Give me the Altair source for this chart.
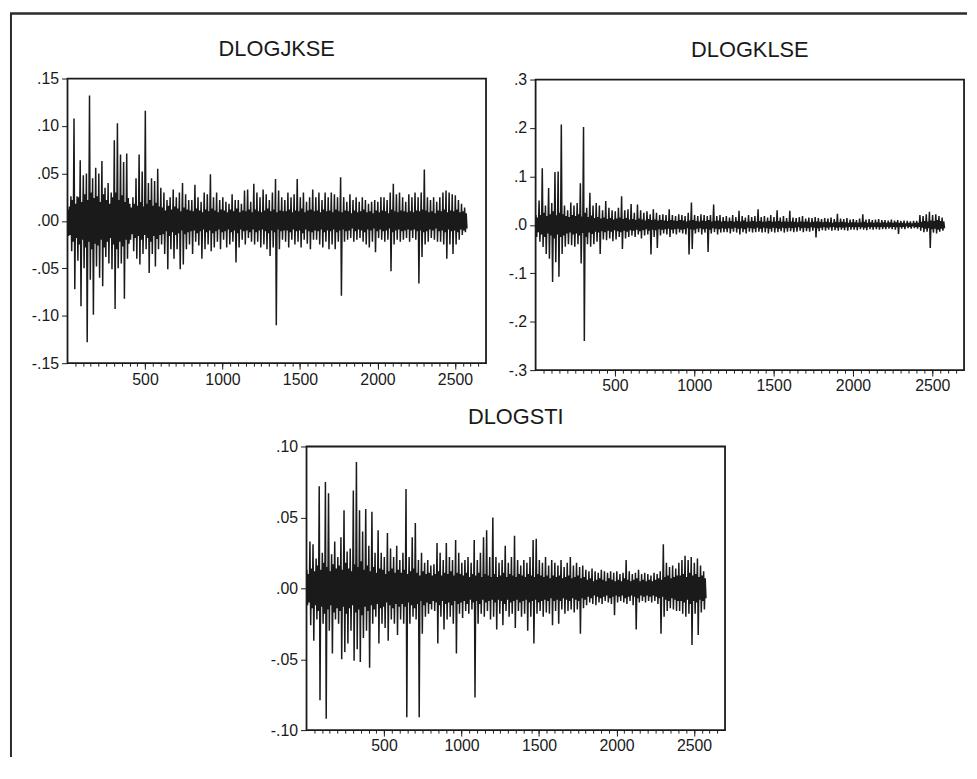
import altair as alt
import pandas as pd

# ---------------- data ----------------
# Each series is summarised per block of 20 observations: the highest and the
# lowest value seen in that block, and the half-width of the dense dark band
# around zero in that block ("core").
BIN = 20

jkse_hi = [.012, .026, .108, .026, .064, .048, .050, .132, .045, .056,
           .050, .063, .035, .040, .030, .085, .103, .070, .062, .071,
           .018, .025, .045, .070, .052, .116, .040, .045, .042, .055,
           .035, .030, .022, .025, .033, .025, .030, .040, .028, .022,
           .022, .038, .025, .020, .030, .028, .049, .025, .030, .022,
           .025, .020, .018, .028, .022, .022, .018, .032, .033, .020,
           .039, .030, .025, .033, .028, .022, .030, .044, .032, .025,
           .022, .030, .025, .028, .044, .025, .030, .020, .025, .033,
           .025, .030, .022, .030, .025, .030, .028, .025, .046, .025,
           .020, .028, .022, .025, .020, .025, .022, .018, .020, .022,
           .020, .025, .025, .022, .030, .039, .028, .030, .025, .020,
           .028, .025, .030, .025, .030, .054, .025, .022, .025, .020,
           .025, .030, .032, .030, .028, .027, .022, .018, .014]
jkse_lo = [-.016, -.032, -.072, -.042, -.090, -.050, -.128, -.062, -.099, -.048,
           -.060, -.069, -.038, -.045, -.051, -.093, -.050, -.045, -.082, -.040,
           -.020, -.032, -.040, -.046, -.035, -.030, -.055, -.035, -.048, -.030,
           -.025, -.035, -.051, -.030, -.040, -.030, -.051, -.046, -.030, -.025,
           -.035, -.022, -.026, -.040, -.030, -.025, -.032, -.028, -.022, -.030,
           -.020, -.028, -.025, -.022, -.044, -.028, -.020, -.025, -.018, -.022,
           -.025, -.022, -.028, -.025, -.030, -.037, -.028, -.110, -.030, -.020,
           -.022, -.028, -.020, -.025, -.022, -.028, -.020, -.024, -.030, -.020,
           -.020, -.025, -.028, -.022, -.030, -.025, -.030, -.022, -.079, -.022,
           -.020, -.018, -.022, -.020, -.018, -.022, -.025, -.028, -.022, -.033,
           -.018, -.020, -.022, -.020, -.053, -.025, -.020, -.022, -.020, -.018,
           -.022, -.018, -.020, -.066, -.038, -.025, -.022, -.018, -.020, -.022,
           -.022, -.025, -.040, -.025, -.035, -.025, -.020, -.015, -.012]
jkse_core = [.015, .022, .018, .025, .020, .028, .022, .030, .024, .026,
             .020, .028, .022, .018, .025, .030, .022, .027, .020, .024,
             .014, .018, .016, .020, .015, .018, .022, .016, .019, .015,
             .014, .011, .016, .012, .015, .013, .010, .014, .012, .011,
             .010, .013, .011, .009, .012, .010, .013, .011, .009, .012,
             .011, .009, .012, .010, .013, .009, .011, .010, .012, .009,
             .012, .010, .009, .011, .013, .010, .012, .009, .011, .010,
             .010, .012, .009, .011, .010, .013, .009, .011, .012, .010,
             .011, .009, .012, .010, .011, .009, .012, .010, .009, .011,
             .010, .008, .011, .009, .010, .012, .009, .010, .008, .011,
             .009, .011, .010, .008, .012, .010, .009, .011, .010, .009,
             .010, .009, .011, .010, .012, .011, .009, .010, .008, .011,
             .010, .012, .009, .011, .010, .012, .009, .010, .008]

klse_hi = [.020, .050, .117, .040, .076, .045, .109, .110, .207, .040,
           .030, .046, .040, .045, .086, .202, .035, .066, .040, .045,
           .040, .030, .049, .035, .030, .028, .035, .059, .030, .032,
           .043, .025, .042, .030, .025, .028, .022, .032, .025, .020,
           .022, .020, .032, .020, .018, .022, .020, .018, .025, .046,
           .020, .018, .022, .020, .018, .020, .042, .018, .020, .016,
           .018, .015, .020, .016, .029, .018, .015, .020, .016, .018,
           .032, .016, .018, .015, .020, .016, .030, .015, .018, .014,
           .029, .015, .014, .016, .018, .013, .015, .014, .016, .014,
           .012, .014, .013, .015, .012, .023, .013, .012, .014, .011,
           .012, .010, .013, .022, .011, .012, .010, .011, .012, .010,
           .010, .009, .011, .009, .010, .008, .009, .008, .007, .008,
           .008, .020, .018, .022, .027, .020, .022, .018, .015]
klse_lo = [-.025, -.035, -.046, -.060, -.070, -.118, -.077, -.107, -.060, -.045,
           -.040, -.042, -.045, -.040, -.080, -.240, -.040, -.045, -.040, -.035,
           -.060, -.030, -.032, -.028, -.034, -.030, -.025, -.050, -.028, -.025,
           -.022, -.025, -.020, -.028, -.022, -.020, -.061, -.025, -.048, -.022,
           -.018, -.020, -.025, -.018, -.020, -.016, -.018, -.020, -.061, -.050,
           -.018, -.015, -.020, -.016, -.056, -.018, -.015, -.020, -.016, -.015,
           -.015, -.018, -.014, -.016, -.020, -.015, -.018, -.014, -.016, -.015,
           -.014, -.016, -.015, -.018, -.014, -.016, -.015, -.013, -.016, -.014,
           -.013, -.015, -.014, -.012, -.015, -.013, -.014, -.012, -.026, -.013,
           -.011, -.012, -.010, -.012, -.011, -.012, -.010, -.011, -.012, -.010,
           -.010, -.011, -.009, -.010, -.011, -.009, -.010, -.009, -.010, -.009,
           -.009, -.008, -.009, -.010, -.019, -.008, -.009, -.007, -.008, -.007,
           -.008, -.012, -.015, -.014, -.048, -.016, -.018, -.014, -.012]
klse_core = [.015, .020, .025, .018, .022, .028, .020, .025, .022, .018,
             .016, .020, .018, .022, .017, .025, .016, .019, .014, .016,
             .013, .015, .012, .014, .011, .013, .015, .012, .014, .011,
             .012, .010, .013, .011, .009, .012, .010, .011, .009, .010,
             .009, .008, .010, .009, .008, .010, .009, .007, .009, .010,
             .008, .007, .009, .008, .010, .007, .008, .009, .007, .008,
             .007, .008, .006, .008, .007, .009, .006, .007, .008, .006,
             .008, .006, .007, .008, .006, .007, .008, .006, .007, .006,
             .007, .006, .005, .007, .006, .007, .005, .006, .007, .006,
             .005, .006, .005, .004, .006, .005, .006, .005, .004, .005,
             .005, .004, .005, .006, .004, .005, .004, .005, .004, .005,
             .004, .005, .004, .005, .004, .004, .003, .004, .003, .004,
             .004, .006, .008, .007, .009, .008, .010, .008, .007]

sti_hi = [.013, .033, .031, .021, .072, .025, .075, .067, .024, .033,
          .022, .036, .055, .026, .028, .069, .089, .055, .040, .056,
          .030, .054, .025, .041, .025, .022, .039, .028, .022, .030,
          .020, .025, .070, .022, .036, .046, .020, .025, .018, .020,
          .016, .017, .032, .025, .020, .032, .022, .020, .034, .025,
          .018, .020, .022, .018, .034, .020, .025, .036, .041, .022,
          .050, .022, .018, .020, .030, .018, .022, .037, .020, .016,
          .020, .018, .022, .034, .035, .020, .018, .022, .016, .020,
          .018, .016, .020, .015, .018, .022, .016, .018, .015, .016,
          .013, .012, .014, .012, .011, .013, .012, .011, .012, .011,
          .012, .010, .011, .020, .012, .010, .011, .013, .010, .011,
          .010, .009, .011, .010, .012, .031, .018, .015, .016, .014,
          .018, .020, .023, .020, .022, .018, .021, .016, .012]
sti_lo = [-.012, -.026, -.037, -.022, -.079, -.025, -.092, -.030, -.046, -.022,
          -.025, -.050, -.045, -.039, -.030, -.051, -.043, -.052, -.035, -.030,
          -.056, -.025, -.020, -.039, -.025, -.028, -.037, -.022, -.025, -.033,
          -.022, -.025, -.091, -.025, -.020, -.022, -.091, -.032, -.020, -.018,
          -.015, -.016, -.039, -.020, -.029, -.022, -.020, -.025, -.046, -.018,
          -.021, -.016, -.018, -.015, -.077, -.025, -.018, -.020, -.016, -.022,
          -.020, -.029, -.018, -.026, -.016, -.020, -.018, -.028, -.016, -.020,
          -.018, -.030, -.020, -.039, -.018, -.016, -.020, -.017, -.018, -.026,
          -.016, -.025, -.015, -.018, -.016, -.015, -.017, -.015, -.032, -.014,
          -.012, -.010, -.011, -.012, -.010, -.011, -.009, -.010, -.011, -.019,
          -.010, -.009, -.010, -.011, -.009, -.012, -.029, -.010, -.009, -.010,
          -.009, -.010, -.009, -.011, -.032, -.020, -.016, -.014, -.015, -.016,
          -.016, -.018, -.020, -.018, -.040, -.018, -.033, -.017, -.015]
sti_core = [.010, .014, .012, .016, .013, .018, .015, .012, .017, .014,
            .016, .013, .018, .014, .012, .017, .015, .019, .013, .016,
            .012, .015, .011, .014, .013, .010, .012, .014, .011, .013,
            .011, .013, .010, .012, .014, .011, .009, .012, .010, .011,
            .009, .010, .012, .009, .011, .010, .012, .009, .011, .010,
            .009, .011, .008, .010, .009, .011, .008, .010, .009, .008,
            .010, .008, .009, .011, .008, .010, .009, .008, .010, .009,
            .008, .010, .009, .008, .010, .009, .008, .009, .007, .009,
            .008, .009, .007, .008, .009, .007, .008, .009, .007, .008,
            .006, .007, .005, .006, .007, .006, .005, .007, .006, .005,
            .006, .005, .007, .006, .005, .006, .007, .005, .006, .005,
            .006, .005, .006, .007, .006, .008, .009, .007, .008, .009,
            .009, .010, .008, .011, .009, .010, .008, .009, .007]

titles = ["DLOGJKSE", "DLOGKLSE", "DLOGSTI"]

x_domain = [0, 2700]
x_major = [500, 1000, 1500, 2000, 2500]
x_minor = list(range(50, 2700, 50))

y1_ticks = [-0.15, -0.10, -0.05, 0.0, 0.05, 0.10, 0.15]
y1_labels = ["-.15", "-.10", "-.05", ".00", ".05", ".10", ".15"]
y2_ticks = [-0.3, -0.2, -0.1, 0.0, 0.1, 0.2, 0.3]
y2_labels = ["-.3", "-.2", "-.1", ".0", ".1", ".2", ".3"]
y3_ticks = [-0.10, -0.05, 0.0, 0.05, 0.10]
y3_labels = ["-.10", "-.05", ".00", ".05", ".10"]

# ---------------- layout / style ----------------
W, H = 965, 752
INK = "#1a1a1a"
FONT = "Liberation Sans"

panels = [
    dict(title=titles[0], hi=jkse_hi, lo=jkse_lo, core=jkse_core,
         ydom=[-0.15, 0.15], yticks=y1_ticks, ylabels=y1_labels,
         xr=[58, 480], yr=[355, 68]),
    dict(title=titles[1], hi=klse_hi, lo=klse_lo, core=klse_core,
         ydom=[-0.3, 0.3], yticks=y2_ticks, ylabels=y2_labels,
         xr=[530, 962], yr=[362, 69]),
    dict(title=titles[2], hi=sti_hi, lo=sti_lo, core=sti_core,
         ydom=[-0.10, 0.10], yticks=y3_ticks, ylabels=y3_labels,
         xr=[299, 721], yr=[725, 439]),
]


def series_frame(hi, lo, core):
    rows = []
    for k, (h, l, c) in enumerate(zip(hi, lo, core)):
        rows.append({"obs": k * BIN + 2, "v": h})
        rows.append({"obs": k * BIN + 7, "v": l})
        rows.append({"obs": k * BIN + 12, "v": c})
        rows.append({"obs": k * BIN + 17, "v": -c})
    return pd.DataFrame(rows)


def label_expr(ticks, labels):
    expr = "''"
    for t, lab in reversed(list(zip(ticks, labels))):
        expr = f"abs(datum.value - ({t})) < 1e-9 ? '{lab}' : {expr}"
    return expr


def panel(p):
    xs = alt.Scale(domain=x_domain, range=p["xr"], nice=False, zero=False)
    ys = alt.Scale(domain=p["ydom"], range=p["yr"], nice=False, zero=False)
    x_off = p["yr"][0] - H
    y_off = -p["xr"][0]

    line = alt.Chart(series_frame(p["hi"], p["lo"], p["core"])).mark_line(
        color=INK, strokeWidth=1.5
    ).encode(
        x=alt.X("obs:Q", scale=xs, axis=alt.Axis(
            orient="bottom", offset=x_off, values=x_major, format="d",
            tickSize=6, labelPadding=2, title=None)),
        y=alt.Y("v:Q", scale=ys, axis=alt.Axis(
            orient="left", offset=y_off, values=p["yticks"],
            labelExpr=label_expr(p["yticks"], p["ylabels"]),
            tickSize=6, labelPadding=3, title=None)),
    )

    box = alt.Chart(pd.DataFrame({"a": [0]})).mark_rect(
        filled=False, stroke=INK, strokeWidth=1.8
    ).encode(
        x=alt.XDatum(x_domain[0], type="quantitative", scale=xs, axis=alt.Axis(
            orient="bottom", offset=x_off, values=x_minor, labels=False,
            tickSize=3, title=None)),
        x2=alt.X2Datum(x_domain[1]),
        y=alt.YDatum(p["ydom"][0], type="quantitative", scale=ys, axis=None),
        y2=alt.Y2Datum(p["ydom"][1]),
    )

    head = alt.Chart(pd.DataFrame({"t": [p["title"]]})).mark_text(
        font=FONT, fontSize=22, color=INK, align="center",
        baseline="alphabetic", dy=-23
    ).encode(
        x=alt.XDatum((x_domain[0] + x_domain[1]) / 2, type="quantitative",
                     scale=xs, axis=None),
        y=alt.YDatum(p["ydom"][1], type="quantitative", scale=ys, axis=None),
        text="t:N",
    )

    return alt.layer(line, box, head).resolve_axis(x="independent", y="independent")


one = pd.DataFrame({"a": [0]})
page_left = alt.Chart(one).mark_rule(color="#2b2b2b", strokeWidth=2).encode(
    x=alt.value(1), y=alt.value(2.5), y2=alt.value(H))
page_top = alt.Chart(one).mark_rule(color="#2b2b2b", strokeWidth=2.5).encode(
    y=alt.value(2.5), x=alt.value(0), x2=alt.value(W))

chart = alt.layer(
    panel(panels[0]), panel(panels[1]), panel(panels[2]), page_left, page_top
).resolve_scale(
    x="independent", y="independent"
).resolve_axis(
    x="independent", y="independent"
).properties(
    width=W, height=H, padding=0
).configure_view(
    stroke="transparent"
).configure_axis(
    grid=False, domain=False, labelFont=FONT, labelFontSize=16,
    labelColor=INK, tickColor=INK, tickWidth=1
)

chart.save("out.html", embed_options={"renderer": "svg", "actions": False})
